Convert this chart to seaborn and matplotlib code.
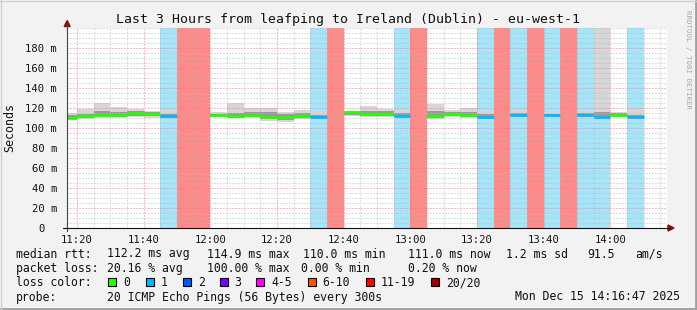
import numpy as np
import pandas as pd
import matplotlib
matplotlib.use("Agg")
import matplotlib.pyplot as plt
from matplotlib.patches import Rectangle, Polygon
from matplotlib.lines import Line2D
import matplotlib.transforms as mtransforms
import seaborn as sns

nan = np.nan

# ---------------- data ----------------
bin_times = ["11:15", "11:20", "11:25", "11:30", "11:35", "11:40", "11:45", "11:50", "11:55",
             "12:00", "12:05", "12:10", "12:15", "12:20", "12:25", "12:30", "12:35", "12:40",
             "12:45", "12:50", "12:55", "13:00", "13:05", "13:10", "13:15", "13:20", "13:25",
             "13:30", "13:35", "13:40", "13:45", "13:50", "13:55", "14:00", "14:05"]
median_ms = [110.5, 111.6, 113.3, 113.3, 115.3, 114.0, 112.3, nan, nan,
             112.8, 111.6, 113.2, 111.3, 110.6, 111.6, 111.3, nan, 115.6,
             114.3, 114.0, 112.3, nan, 111.6, 113.6, 113.2, 111.3, nan,
             113.3, nan, 113.3, nan, 113.3, 111.3, 113.2, 111.3]
smoke_max = [115, 119.5, 125.5, 121, 119, 117, 118, nan, nan,
             116, 125.5, 120, 120, 116, 118, 116.5, nan, 117,
             122, 119, 118, nan, 124.5, 118, 120, 117, nan,
             118, nan, 115.6, nan, 117, 260, 116.5, 120]
smoke_min = [108, 109, 110, 110, 111, 110, 109, nan, nan,
             111, 110, 110, 107, 106, 109, 109, nan, 112,
             111, 111, 110, nan, 109, 111, 110, 109, nan,
             111, nan, 112, nan, 110, 110, 111, 108]
inner_hi = [113, 114.5, 117, 116.5, 117, 116, 114.5, nan, nan,
            114.5, 115.5, 116, 116, 114, 115, 113.5, nan, 116.5,
            117, 117, 115, nan, 117, 116, 116.5, 114, nan,
            115.5, nan, 114.5, nan, 115, 116, 115, 113.5]
inner_lo = [109, 110.5, 112, 111.5, 112.5, 112, 110.5, nan, nan,
            112, 110.5, 111.5, 109, 108.5, 110.5, 110, nan, 113.5,
            112.5, 112.5, 111, nan, 110.5, 112, 111.5, 110, nan,
            112, nan, 112.5, nan, 112, 110.5, 112, 110]
lost_pings = [0, 0, 0, 0, 0, 0, 1, 20, 20,
              0, 0, 0, 0, 0, 0, 1, 20, 0,
              0, 0, 1, 20, 0, 0, 0, 1, 20,
              1, 20, 1, 20, 1, 1, 0, 1]

x_tick_labels = ["11:20", "11:40", "12:00", "12:20", "12:40", "13:00", "13:20", "13:40", "14:00"]
y_tick_values = [0, 20, 40, 60, 80, 100, 120, 140, 160, 180]
y_tick_labels = ["0", "20 m", "40 m", "60 m", "80 m", "100 m", "120 m", "140 m", "160 m", "180 m"]

loss_labels = ["0", "1", "2", "3", "4-5", "6-10", "11-19", "20/20"]
loss_colors = ["#26ff00", "#00b8ff", "#0059ff", "#7e00ff", "#ff00ff", "#ff5500", "#ff0000", "#a10000"]

title = "Last 3 Hours from leafping to Ireland (Dublin) - eu-west-1"
stats_rtt = ["median rtt:", "112.2 ms avg", "114.9 ms max", "110.0 ms min", "111.0 ms now",
             "1.2 ms sd", "91.5", "am/s"]
stats_loss = ["packet loss:", "20.16 % avg", "100.00 % max", "0.00 % min", "0.20 % now"]
probe_text = ["probe:", "20 ICMP Echo Pings (56 Bytes) every 300s"]
stamp = "Mon Dec 15 14:16:47 2025"

# ---------------- helpers ----------------
W, H = 697, 310
def fx(px):
    return px / W
def fy(py):
    return 1 - py / H

def tmin(s):
    h, m = s.split(":")
    return (int(h) - 11) * 60 + int(m)

df = pd.DataFrame({"start": [tmin(t) for t in bin_times], "median": median_ms,
                   "smin": smoke_min, "smax": smoke_max, "ilo": inner_lo, "ihi": inner_hi,
                   "loss": lost_pings})

def loss_color(n):
    if n == 0: return loss_colors[0]
    if n == 1: return loss_colors[1]
    if n == 2: return loss_colors[2]
    if n == 3: return loss_colors[3]
    if n <= 5: return loss_colors[4]
    if n <= 10: return loss_colors[5]
    if n <= 19: return loss_colors[6]
    return loss_colors[7]

bg_colors = {1: "#a7e4f9", 20: "#ff8a8a"}

# ---------------- figure ----------------
sns.set_style("white")
plt.rcParams["font.family"] = ["DejaVu Sans Mono", "DejaVu Sans"]

fig = plt.figure(figsize=(W / 100, H / 100), dpi=100)
fig.patch.set_facecolor("#f2f2f2")
ax = fig.add_axes([fx(67), fy(228), 600 / W, 200 / H])
ax.set_facecolor("white")

xmin, xmax = tmin("11:17"), tmin("14:17")
ax.set_xlim(xmin, xmax)
ax.set_ylim(0, 200)

# loss background columns
for _, r in df.iterrows():
    if r["loss"] > 0:
        ax.bar(r["start"], 200, width=5, bottom=0, align="edge",
               color=bg_colors.get(int(r["loss"]), "#ff8a8a"), linewidth=0, zorder=0.2)

# smoke
valid = df.dropna(subset=["median"])
ax.bar(valid["start"], valid["smax"] - valid["smin"], bottom=valid["smin"], width=5,
       align="edge", color="#d6d6d6", alpha=1.0, linewidth=0, zorder=0.5)
ax.bar(valid["start"], valid["ihi"] - valid["ilo"], bottom=valid["ilo"], width=5,
       align="edge", color="#8c8c8c", alpha=0.8, linewidth=0, zorder=0.6)

# grid
ax.set_xticks([tmin(t) for t in x_tick_labels])
ax.set_xticklabels(x_tick_labels)
ax.set_xticks(np.arange(20, 200, 5), minor=True)
ax.set_yticks(y_tick_values)
ax.set_yticklabels(y_tick_labels)
ax.set_yticks(np.arange(0, 201, 5), minor=True)
ax.set_axisbelow(False)
ax.grid(True, which="minor", color="#b8b8b8", linestyle=(0, (1, 2)), linewidth=0.72, alpha=0.9)
ax.grid(True, which="major", color="#ff7070", linestyle=(0, (1, 2)), linewidth=0.72, alpha=0.9)
for gl in ax.get_xgridlines() + ax.get_ygridlines():
    gl.set_zorder(1)

# median lines coloured by loss
for _, r in valid.iterrows():
    ax.hlines(r["median"], r["start"], r["start"] + 5, color=loss_color(int(r["loss"])),
              linewidth=2.0, zorder=3)

for s in ax.spines.values():
    s.set_visible(False)

ax.tick_params(axis="both", which="major", length=2, width=0.7, color="#555555",
               labelsize=7.56, labelcolor="#111111")
ax.tick_params(axis="both", which="minor", length=0)
ax.tick_params(axis="y", pad=5)
ax.tick_params(axis="x", pad=3)
for lab in ax.get_yticklabels():
    if lab.get_text() == "0":
        lab.set_transform(lab.get_transform() +
                          mtransforms.ScaledTranslation(-13 / 100, 0, fig.dpi_scale_trans))

# axis lines and arrows (figure pixel coords)
fig.add_artist(Line2D([fx(67), fx(67)], [fy(231), fy(24)], color="#444444", lw=0.8))
fig.add_artist(Line2D([fx(63), fx(670)], [fy(228), fy(228)], color="#111111", lw=0.8))
fig.add_artist(Polygon([[fx(67.2), fy(20.5)], [fx(64.2), fy(26.5)], [fx(70.2), fy(26.5)]],
                       closed=True, color="#8b1010", transform=fig.transFigure))
fig.add_artist(Polygon([[fx(674), fy(228)], [fx(668), fy(225)], [fx(668), fy(231)]],
                       closed=True, color="#8b1010", transform=fig.transFigure))

# texts
fig.text(fx(348), fy(19), title, ha="center", va="center", fontsize=9.55, color="#111111")
fig.text(fx(10), fy(128), "Seconds", rotation=90, ha="center", va="center",
         fontsize=8.4, color="#111111")
fig.text(fx(688), fy(60), "RRDTOOL / TOBI OETIKER", rotation=270, ha="center", va="center",
         fontsize=5.4, color="#a8a8a8")

fs = 8.3
rtt_x = [16, 107, 207, 303, 408, 506, 587, 635]
for t, x in zip(stats_rtt, rtt_x):
    fig.text(fx(x), fy(254), t, ha="left", va="center", fontsize=fs, color="#111111")
loss_x = [16, 107, 207, 301, 408]
for t, x in zip(stats_loss, loss_x):
    fig.text(fx(x), fy(268.5), t, ha="left", va="center", fontsize=fs, color="#111111")
fig.text(fx(16), fy(283), "loss color:", ha="left", va="center", fontsize=fs, color="#111111")
sq_x = [108, 146, 183, 219.5, 256, 307.5, 366, 431]
for lab, col, x in zip(loss_labels, sns.color_palette(loss_colors), sq_x):
    fig.add_artist(Rectangle((fx(x), fy(286)), 8 / W, 8 / H, facecolor=col,
                             edgecolor="black", linewidth=0.8, transform=fig.transFigure))
    fig.text(fx(x + 15), fy(283), lab, ha="left", va="center", fontsize=fs, color="#111111")
fig.text(fx(16), fy(297), probe_text[0], ha="left", va="center", fontsize=fs, color="#111111")
fig.text(fx(107), fy(297), probe_text[1], ha="left", va="center", fontsize=fs, color="#111111")
fig.text(fx(680), fy(297), stamp, ha="right", va="center", fontsize=fs, color="#111111")

# outer 3D frame
fig.add_artist(Line2D([fx(0), fx(697)], [fy(308.5), fy(308.5)], color="#a0a0a0", lw=2.0))
fig.add_artist(Line2D([fx(695.5), fx(695.5)], [fy(0), fy(310)], color="#a0a0a0", lw=2.0))
fig.add_artist(Line2D([fx(0), fx(697)], [fy(0.5), fy(0.5)], color="#d0d0d0", lw=1.0))
fig.add_artist(Line2D([fx(0.5), fx(0.5)], [fy(0), fy(310)], color="#d0d0d0", lw=1.0))

fig.savefig("out.png", dpi=100, facecolor=fig.get_facecolor())
